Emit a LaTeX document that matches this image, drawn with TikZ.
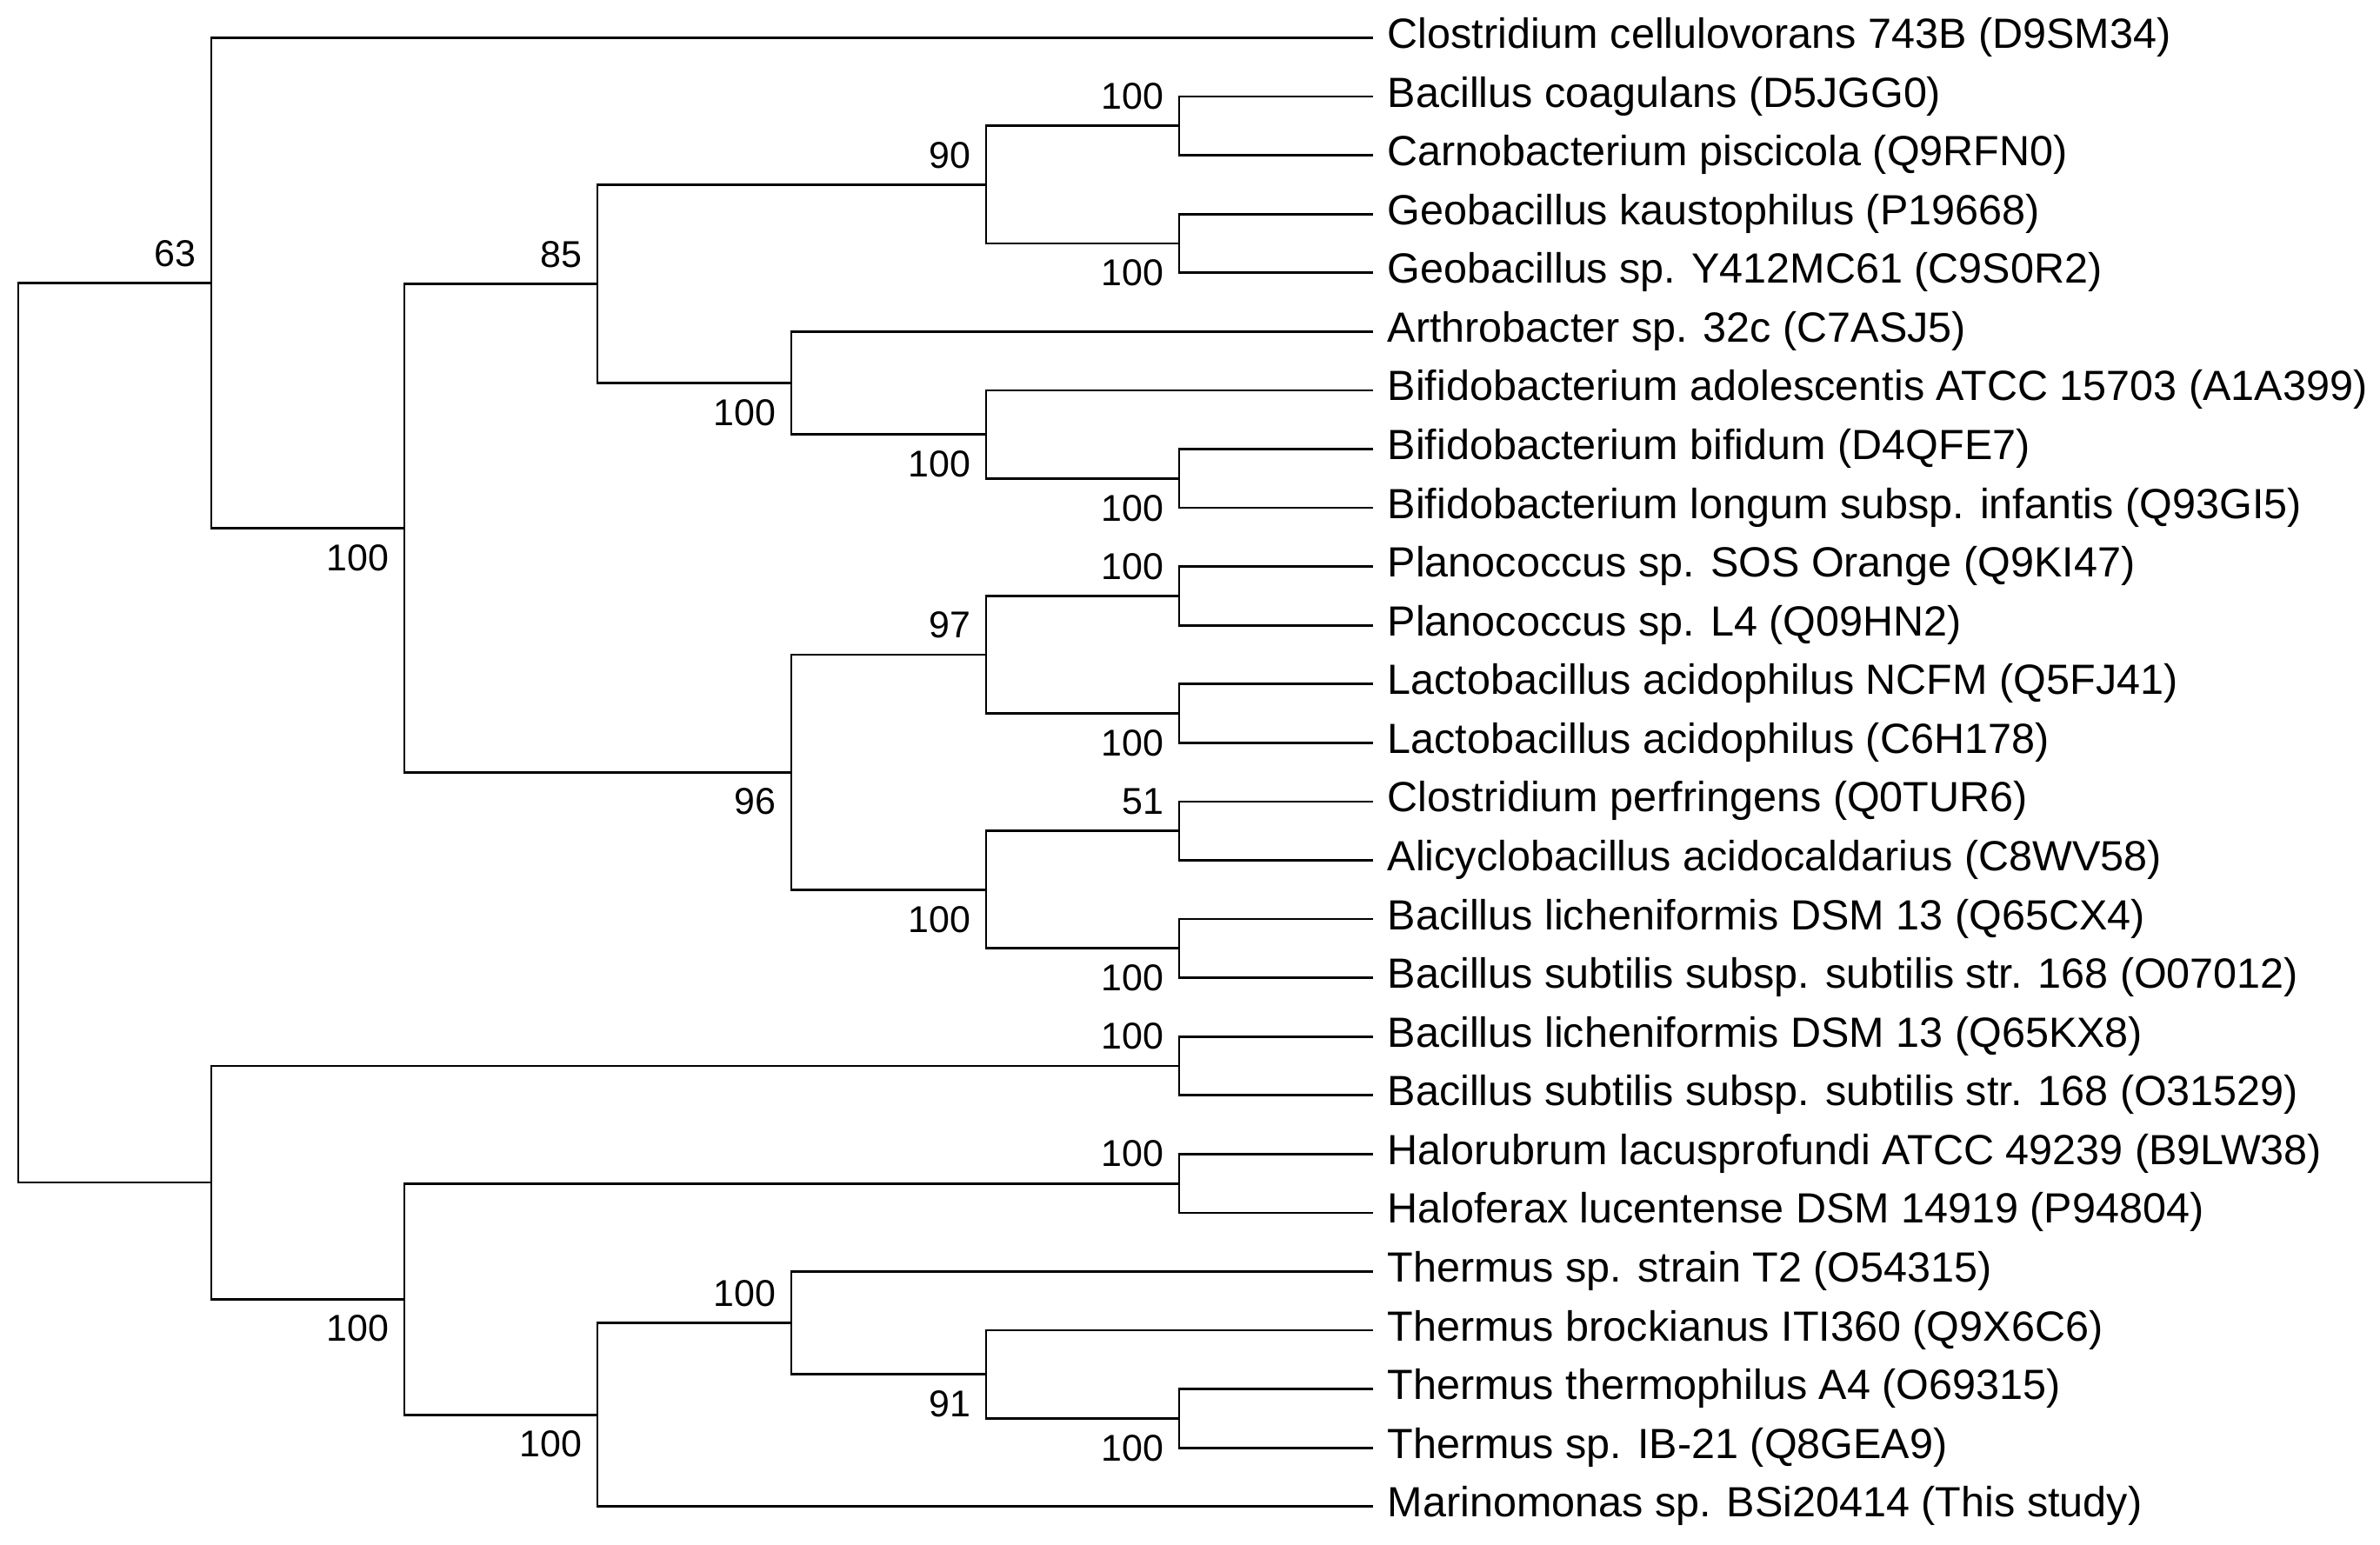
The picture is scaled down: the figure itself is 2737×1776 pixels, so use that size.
\documentclass[tikz,border=0pt]{standalone}
\usepackage{fontspec}
\setmainfont{Liberation Sans}
\usetikzlibrary{calc}
\newcommand\lvy[1]{(43.5+67.57*(#1))}
\begin{document}
\begin{tikzpicture}[x=0.01cm,y=-0.01cm,
  branch/.style={line width=0.028cm, line join=miter, draw=black},
  leaf/.style={anchor=base west, inner sep=0pt, font=\fontsize{13.8}{16}\selectfont},
  boot/.style={anchor=east, inner sep=0pt, font=\fontsize{12.2}{14}\selectfont}]
\useasboundingbox (0,0) rectangle (2737,1776);
\fill[white] (0,0) rectangle (2737,1776);
% leaf ends
\foreach \i in {0,...,25} \coordinate (l\i) at (1579,{\lvy{\i}});
% leaf labels
\foreach \i/\t in {
0/Clostridium cellulovorans 743B (D9SM34),
1/Bacillus coagulans (D5JGG0),
2/Carnobacterium piscicola (Q9RFN0),
3/Geobacillus kaustophilus (P19668),
4/Geobacillus sp. Y412MC61 (C9S0R2),
5/Arthrobacter sp. 32c (C7ASJ5),
6/Bifidobacterium adolescentis ATCC 15703 (A1A399),
7/Bifidobacterium bifidum (D4QFE7),
8/Bifidobacterium longum subsp. infantis (Q93GI5),
9/Planococcus sp. SOS Orange (Q9KI47),
10/Planococcus sp. L4 (Q09HN2),
11/Lactobacillus acidophilus NCFM (Q5FJ41),
12/Lactobacillus acidophilus (C6H178),
13/Clostridium perfringens (Q0TUR6),
14/Alicyclobacillus acidocaldarius (C8WV58),
15/Bacillus licheniformis DSM 13 (Q65CX4),
16/Bacillus subtilis subsp. subtilis str. 168 (O07012),
17/Bacillus licheniformis DSM 13 (Q65KX8),
18/Bacillus subtilis subsp. subtilis str. 168 (O31529),
19/Halorubrum lacusprofundi ATCC 49239 (B9LW38),
20/Haloferax lucentense DSM 14919 (P94804),
21/Thermus sp. strain T2 (O54315),
22/Thermus brockianus ITI360 (Q9X6C6),
23/Thermus thermophilus A4 (O69315),
24/Thermus sp. IB-21 (Q8GEA9),
25/Marinomonas sp. BSi20414 (This study)}
  \node[leaf] (t\i) at (1595,{\lvy{\i}+12}) {\t};
% internal nodes
\coordinate (nA) at (1356,{\lvy{1.5}});
\coordinate (nB) at (1356,{\lvy{3.5}});
\coordinate (nC) at (1134,{\lvy{2.5}});
\coordinate (nD) at (1356,{\lvy{7.5}});
\coordinate (nE) at (1134,{\lvy{6.75}});
\coordinate (nF) at (910,{\lvy{5.875}});
\coordinate (nG) at (687,{\lvy{4.1875}});
\coordinate (nH) at (1356,{\lvy{9.5}});
\coordinate (nI) at (1356,{\lvy{11.5}});
\coordinate (nJ) at (1134,{\lvy{10.5}});
\coordinate (nK) at (1356,{\lvy{13.5}});
\coordinate (nL) at (1356,{\lvy{15.5}});
\coordinate (nM) at (1134,{\lvy{14.5}});
\coordinate (nN) at (910,{\lvy{12.5}});
\coordinate (nO) at (465,{\lvy{8.34375}});
\coordinate (nP) at (243,{\lvy{4.171875}});
\coordinate (nQ) at (1356,{\lvy{17.5}});
\coordinate (nR) at (1356,{\lvy{19.5}});
\coordinate (nS) at (1356,{\lvy{23.5}});
\coordinate (nT) at (1134,{\lvy{22.75}});
\coordinate (nU) at (910,{\lvy{21.875}});
\coordinate (nV) at (687,{\lvy{23.4375}});
\coordinate (nW) at (465,{\lvy{21.46875}});
\coordinate (nX) at (243,{\lvy{19.484375}});
\coordinate (root) at (21,{\lvy{11.828125}});
% branches
\foreach \c/\p in {l1/nA,l2/nA,l3/nB,l4/nB,nA/nC,nB/nC,l7/nD,l8/nD,l6/nE,nD/nE,
  l5/nF,nE/nF,nC/nG,nF/nG,l9/nH,l10/nH,l11/nI,l12/nI,nH/nJ,nI/nJ,
  l13/nK,l14/nK,l15/nL,l16/nL,nK/nM,nL/nM,nJ/nN,nM/nN,nG/nO,nN/nO,
  l0/nP,nO/nP,l17/nQ,l18/nQ,l19/nR,l20/nR,l23/nS,l24/nS,l22/nT,nS/nT,
  l21/nU,nT/nU,nU/nV,l25/nV,nR/nW,nV/nW,nQ/nX,nW/nX,nP/root,nX/root}
  \draw[branch] (\c) -| (\p);
% bootstrap values (a = above, b = below)
\foreach \n/\v/\s in {nA/100/-34,nB/100/34,nC/90/-34,nD/100/34,nE/100/34,nF/100/34,
  nG/85/-34,nH/100/-34,nI/100/34,nJ/97/-34,nK/51/-34,nL/100/34,nM/100/34,nN/96/34,
  nO/100/34,nP/63/-34,nQ/100/-34,nR/100/-34,nS/100/34,nT/91/34,nU/100/-34,
  nV/100/34,nW/100/34}
  \node[boot] (b\n) at ($(\n)+(-17,\s)$) {\v};
\end{tikzpicture}
\end{document}
